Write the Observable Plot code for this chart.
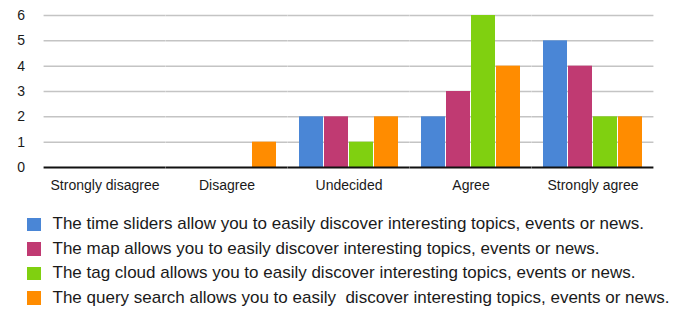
<!DOCTYPE html>
<html>
<head>
<meta charset="utf-8">
<script src="https://cdn.jsdelivr.net/npm/d3@7"></script>
<script src="https://cdn.jsdelivr.net/npm/@observablehq/plot@0.6"></script>
<style>
  html, body { margin: 0; padding: 0; background: #fff; }
  #chart { width: 678px; }
  .legend { padding-top: 12px; font-family: "Liberation Sans", Arial, Helvetica, sans-serif; font-size: 17px; color: #1a1a1a; }
  .legend .row { display: flex; align-items: center; height: 24.5px; }
  .legend .sw { width: 13.5px; height: 13.5px; margin-left: 27px; margin-right: 12px; flex: none; }
  .legend .tx { white-space: pre; }
</style>
</head>
<body>
<div id="chart"></div>
<script>
const categories = ["Strongly disagree", "Disagree", "Undecided", "Agree", "Strongly agree"];
const seriesNames = [
  "The time sliders allow you to easily discover interesting topics, events or news.",
  "The map allows you to easily discover interesting topics, events or news.",
  "The tag cloud allows you to easily discover interesting topics, events or news.",
  "The query search allows you to easily  discover interesting topics, events or news."
];
const colors = ["#4a86d6", "#c03a72", "#80d010", "#ff8c00"];
const timeSliders = [0, 0, 2, 2, 5];
const mapValues   = [0, 0, 2, 3, 4];
const tagCloud    = [0, 0, 1, 6, 2];
const querySearch = [0, 1, 2, 4, 2];
const yTicks = [0, 1, 2, 3, 4, 5, 6];

const seriesValues = [timeSliders, mapValues, tagCloud, querySearch];
const data = [];
categories.forEach((c, i) => {
  seriesValues.forEach((vals, s) => {
    data.push({category: c, series: seriesNames[s], value: vals[i]});
  });
});

const W = 678, ML = 42, MR = 23;
const padIn = 0.17, padOut = 0.085;
const step = (W - ML - MR) / (categories.length - padIn + 2 * padOut);
const ext = -step * padIn / 2; // extend rules across the gaps between facets
const outerGap = step * padOut;   // y axis sits at the first facet's left edge

const plot = Plot.plot({
  width: W,
  height: 200,
  marginLeft: ML,
  marginRight: MR,
  marginTop: 15,
  marginBottom: 33,
  style: {fontSize: "14px", fontFamily: "Liberation Sans, Arial, Helvetica, sans-serif", color: "#1a1a1a", background: "#fff"},
  fx: {domain: categories, paddingInner: padIn, paddingOuter: padOut, axis: "bottom", label: null, tickSize: 0, tickPadding: 13},
  x: {domain: seriesNames, paddingInner: 0.04, paddingOuter: 0, axis: null},
  y: {domain: [0, 6], ticks: yTicks, tickSize: 0, tickPadding: 19 + outerGap, label: null, tickFormat: d3.format("d")},
  color: {domain: seriesNames, range: colors},
  marks: [
    Plot.ruleY(yTicks.filter(d => d > 0), {stroke: "#c4c4c4", strokeWidth: 1.5, insetLeft: ext, insetRight: ext}),
    Plot.barY(data, {fx: "category", x: "series", y: "value", fill: "series"}),
    Plot.ruleY([0], {stroke: "#111", strokeWidth: 2, insetLeft: ext, insetRight: ext})
  ]
});
document.getElementById("chart").appendChild(plot);

const legend = document.createElement("div");
legend.className = "legend";
seriesNames.forEach((name, i) => {
  const row = document.createElement("div");
  row.className = "row";
  const sw = document.createElement("span");
  sw.className = "sw";
  sw.style.background = colors[i];
  const tx = document.createElement("span");
  tx.className = "tx";
  tx.textContent = name;
  row.appendChild(sw);
  row.appendChild(tx);
  legend.appendChild(row);
});
document.getElementById("chart").appendChild(legend);
</script>
</body>
</html>
